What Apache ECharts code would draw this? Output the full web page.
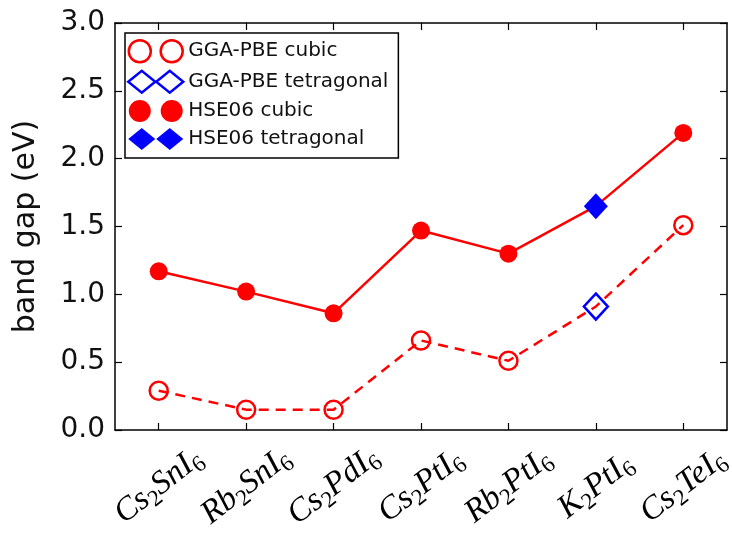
<!DOCTYPE html>
<html>
<head>
<meta charset="utf-8">
<script src="https://cdn.jsdelivr.net/npm/echarts@6/dist/echarts.min.js"></script>
<style>
  html, body { margin: 0; padding: 0; background: #fff; }
  #chart { width: 732px; height: 535px; }
</style>
</head>
<body>
<div id="chart"></div>
<script>
// compounds along the x axis
var compounds = ["Cs2SnI6", "Rb2SnI6", "Cs2PdI6", "Cs2PtI6", "Rb2PtI6", "K2PtI6", "Cs2TeI6"];
// band gaps (eV), K2PtI6 is the tetragonal one
var hseGap = [1.17, 1.02, 0.86, 1.47, 1.30, 1.65, 2.19];
var ggaGap = [0.29, 0.15, 0.15, 0.66, 0.51, 0.91, 1.51];
var tetragonalIndex = 5;
var yTicks = [0, 0.5, 1.0, 1.5, 2.0, 2.5, 3.0];

var RED = "#ff0000";
var BLUE = "#0000ff";

// line data: hide the marker of the tetragonal point, it is drawn by its own series
function lineData(values) {
  return values.map(function (v, i) {
    return i === tetragonalIndex ? { value: v, symbol: "none" } : v;
  });
}
function onlyTetragonal(values) {
  return values.map(function (v, i) {
    return i === tetragonalIndex ? v : "-";
  });
}

var twoCircles = "path://M1,11a10,10 0 1,0 20,0a10,10 0 1,0 -20,0Z M30,11a10,10 0 1,0 20,0a10,10 0 1,0 -20,0Z";
var twoDiamonds = "path://M0,11L13.5,0L27,11L13.5,22Z M28,11L41.5,0L55,11L41.5,22Z";

// matplotlib style ticks pointing into the plot
function ticks(extra) {
  return Object.assign({ show: true, inside: true, length: 7, lineStyle: { color: "#000", width: 1.2 } }, extra || {});
}
var frameLine = { show: true, onZero: false, lineStyle: { color: "#000", width: 1.5 } };

var myChart = echarts.init(document.getElementById("chart"));

var option = {
  animation: false,
  backgroundColor: "#fff",
  grid: {
    left: 115,
    right: 5,
    top: 23,
    bottom: 105,
    outerBoundsMode: "none",
  },
  legend: {
    orient: "vertical",
    left: 125,
    top: 33,
    padding: [6, 10, 8, 2],
    itemGap: 6,
    itemWidth: 55,
    itemHeight: 22,
    borderColor: "#000",
    borderWidth: 1.5,
    backgroundColor: "#fff",
    textStyle: {
      fontFamily: "DejaVu Sans",
      fontSize: 20,
      color: "#111",
    },
    data: [
      { name: "GGA-PBE cubic", icon: twoCircles, itemStyle: { color: "rgba(255,255,255,0)", borderColor: RED, borderWidth: 2.5 } },
      { name: "GGA-PBE tetragonal", icon: twoDiamonds, itemStyle: { color: "rgba(255,255,255,0)", borderColor: BLUE, borderWidth: 2.5 } },
      { name: "HSE06 cubic", icon: twoCircles, itemStyle: { color: RED, borderWidth: 0, opacity: 1 } },
      { name: "HSE06 tetragonal", icon: twoDiamonds, itemStyle: { color: BLUE, borderWidth: 0, opacity: 1 } },
    ],
  },
  xAxis: [
    {
      type: "category",
      data: compounds,
      boundaryGap: true,
      axisLine: frameLine,
      axisTick: ticks({ alignWithLabel: true, interval: 0 }),
      axisLabel: {
        interval: 0,
        rotate: 38,
        align: "center",
        verticalAlign: "middle",
        margin: 56,
        fontFamily: "Liberation Serif",
        fontStyle: "italic",
        fontSize: 33,
        lineHeight: 40,
        color: "#000",
        formatter: function (value) {
          return value.replace(/(\d)/g, "{s|$1}");
        },
        rich: {
          s: {
            fontFamily: "Liberation Serif",
            fontStyle: "normal",
            fontSize: 23,
            lineHeight: 23,
            verticalAlign: "bottom",
            color: "#000",
          },
        },
      },
      splitLine: { show: false },
    },
    {
      type: "category",
      position: "top",
      data: compounds,
      boundaryGap: true,
      axisLine: frameLine,
      axisTick: ticks({ alignWithLabel: true, interval: 0 }),
      axisLabel: { show: false },
      splitLine: { show: false },
    },
  ],
  yAxis: [
    {
      type: "value",
      min: yTicks[0],
      max: yTicks[yTicks.length - 1],
      interval: 0.5,
      name: "band gap (eV)",
      nameLocation: "middle",
      nameGap: 74,
      nameTextStyle: { fontFamily: "DejaVu Sans", fontSize: 30, color: "#111" },
      axisLine: frameLine,
      axisTick: ticks(),
      axisLabel: {
        margin: 10,
        fontFamily: "DejaVu Sans",
        fontSize: 28,
        color: "#111",
        formatter: function (v) {
          return v.toFixed(1);
        },
      },
      splitLine: { show: false },
    },
    {
      type: "value",
      position: "right",
      min: yTicks[0],
      max: yTicks[yTicks.length - 1],
      interval: 0.5,
      axisLine: frameLine,
      axisTick: ticks(),
      axisLabel: { show: false },
      splitLine: { show: false },
    },
  ],
  series: [
    {
      name: "GGA-PBE cubic",
      type: "line",
      data: lineData(ggaGap),
      symbol: "circle",
      symbolSize: 18,
      showAllSymbol: true,
      itemStyle: { color: "rgba(255,255,255,0)", borderColor: RED, borderWidth: 2.5 },
      lineStyle: { color: RED, width: 2.5, type: [10, 7] },
      z: 2,
    },
    {
      name: "HSE06 cubic",
      type: "line",
      data: lineData(hseGap),
      symbol: "circle",
      symbolSize: 18,
      showAllSymbol: true,
      itemStyle: { color: RED, opacity: 1 },
      lineStyle: { color: RED, width: 2.5 },
      z: 2,
    },
    {
      name: "GGA-PBE tetragonal",
      type: "scatter",
      data: onlyTetragonal(ggaGap),
      symbol: "diamond",
      symbolSize: [24, 26],
      itemStyle: { color: "rgba(255,255,255,0)", borderColor: BLUE, borderWidth: 2.5, opacity: 1 },
      z: 3,
    },
    {
      name: "HSE06 tetragonal",
      type: "scatter",
      data: onlyTetragonal(hseGap),
      symbol: "diamond",
      symbolSize: [24, 26],
      itemStyle: { color: BLUE, opacity: 1 },
      z: 3,
    },
  ],
};

myChart.setOption(option);
</script>
</body>
</html>
